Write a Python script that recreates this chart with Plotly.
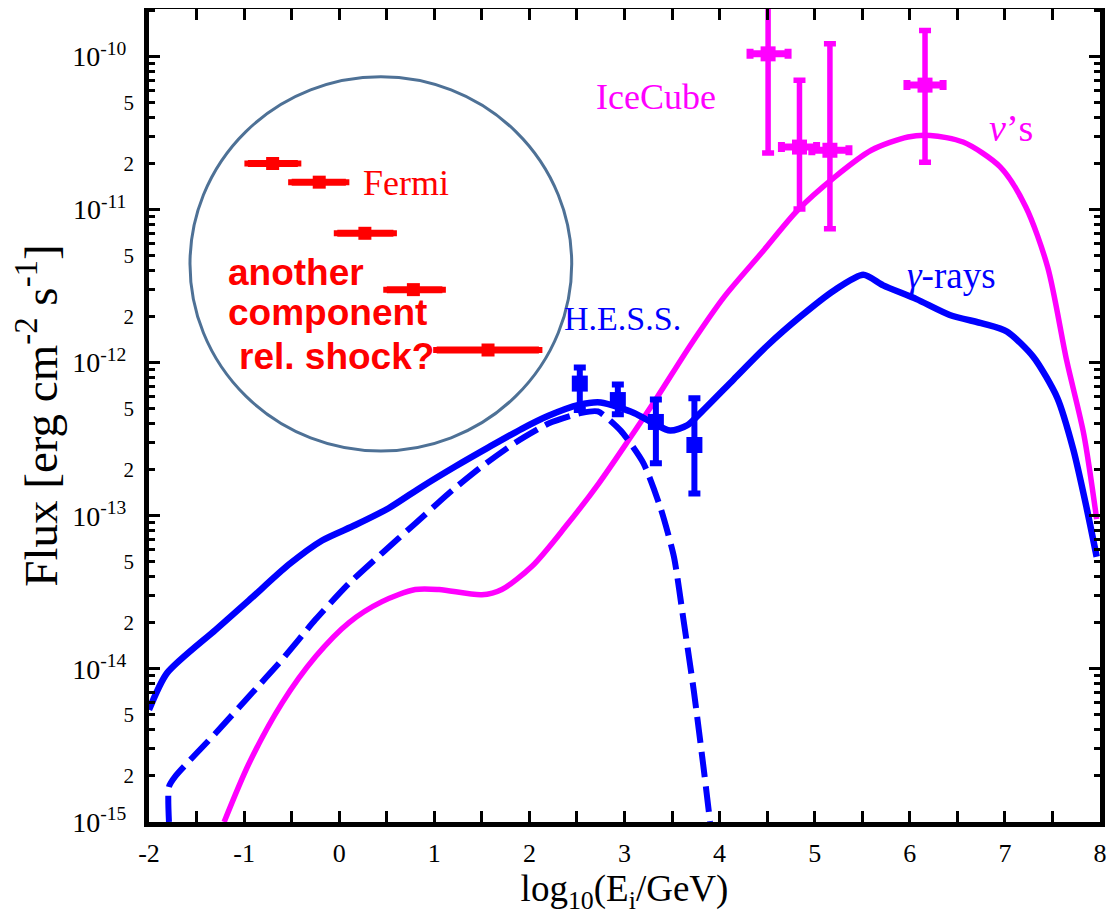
import plotly.graph_objects as go

# ---------------- data ----------------
gam_x = [-2.0, -1.81, -1.30, -0.95, -0.53, -0.18, 0.17, 0.52, 0.87, 1.22, 1.57, 1.92, 2.20, 2.52, 2.75,
         3.10, 3.31, 3.48, 3.66, 3.80, 4.15, 4.50, 4.85, 5.20, 5.51, 5.72, 6.07, 6.42, 6.77, 7.02,
         7.30, 7.55, 7.72, 7.86, 7.965]
gam_y = [5.4e-15, 9.4e-15, 1.8e-14, 2.8e-14, 4.8e-14, 6.9e-14, 8.7e-14, 1.12e-13, 1.55e-13, 2.1e-13,
         2.8e-13, 3.7e-13, 4.5e-13, 5.3e-13, 5.5e-13,
         4.7e-13, 4.0e-13, 3.6e-13, 3.9e-13, 4.7e-13, 7.8e-13, 1.29e-12, 2.0e-12, 2.95e-12, 3.75e-12,
         3.2e-12, 2.6e-12, 2.05e-12, 1.8e-12, 1.6e-12, 1.09e-12, 5.9e-13, 2.7e-13, 1.12e-13, 5.4e-14]

dash_x = [-1.79, -1.79, -1.72, -1.30, -0.95, -0.60, -0.25, 0.10, 0.45, 0.80, 1.15, 1.50, 1.85, 2.20,
          2.55, 2.72, 2.96, 3.20, 3.38, 3.52, 3.62, 3.73, 3.83, 3.90]
dash_y = [1.0e-15, 1.7e-15, 2.0e-15, 3.8e-15, 6.6e-15, 1.15e-14, 2.1e-14, 3.6e-14, 5.7e-14, 8.9e-14,
          1.4e-13, 2.1e-13, 3.0e-13, 4.0e-13, 4.7e-13, 4.8e-13, 3.6e-13, 2.2e-13, 1.12e-13, 5.4e-14,
          2.1e-14, 7.1e-15, 2.3e-15, 1.0e-15]

nu_x = [-1.21, -0.95, -0.60, -0.25, 0.10, 0.45, 0.80, 1.05, 1.50, 1.71, 2.03, 2.38, 2.73, 3.04, 3.34,
        3.70, 4.05, 4.44, 4.82, 5.21, 5.595, 5.98, 6.215, 6.56, 6.95, 7.22, 7.45, 7.65, 7.83, 7.965]
nu_y = [1.0e-15, 2.4e-15, 6.0e-15, 1.2e-14, 2.0e-14, 2.75e-14, 3.3e-14, 3.3e-14, 3.05e-14, 3.3e-14,
        4.7e-14, 8.5e-14, 1.63e-13, 3.1e-13, 5.9e-13,
        1.32e-12, 2.7e-12, 5.2e-12, 9.9e-12, 1.63e-11, 2.44e-11, 2.98e-11, 3.05e-11, 2.76e-11, 1.9e-11,
        1.04e-11, 4.2e-12, 1.03e-12, 3.4e-13, 9.5e-14]

fermi_x = [-0.70, -0.21, 0.27, 0.78, 1.565]
fermi_xlo = [-0.96, -0.50, -0.02, 0.50, 1.025]
fermi_xhi = [-0.435, 0.07, 0.57, 1.085, 2.10]
fermi_y = [2.0e-11, 1.51e-11, 7.0e-12, 3.0e-12, 1.21e-12]

hess_x = [2.53, 2.93, 3.33, 3.735]
hess_y = [7.3e-13, 5.7e-13, 4.1e-13, 2.9e-13]
hess_lo = [4.9e-13, 4.6e-13, 2.2e-13, 1.4e-13]
hess_hi = [9.3e-13, 7.2e-13, 5.75e-13, 5.85e-13]

ice_x = [4.51, 4.84, 5.16, 6.16]
ice_xlo = [4.32, 4.65, 4.97, 5.97]
ice_xhi = [4.72, 5.02, 5.36, 6.35]
ice_y = [1.04e-10, 2.56e-11, 2.44e-11, 6.5e-11]
ice_lo = [2.34e-11, 1.01e-11, 7.5e-12, 2.04e-11]
ice_hi = [4.0e-10, 7.0e-11, 1.21e-10, 1.48e-10]

x_ticks = [-2, -1, 0, 1, 2, 3, 4, 5, 6, 7, 8]
y_decades = [-15, -14, -13, -12, -11, -10]
y_mid_labels = [2, 5]

BLUE = "#0000FF"
MAG = "#FF00FF"
RED = "#FF0000"
SERIF = "Liberation Serif, Times New Roman, serif"
SANS = "Liberation Sans, Arial, sans-serif"

fig = go.Figure()

fig.add_trace(go.Scatter(x=nu_x, y=nu_y, mode="lines",
                         line=dict(color=MAG, width=5.5, shape="spline", smoothing=0.8),
                         showlegend=False))
fig.add_trace(go.Scatter(x=dash_x, y=dash_y, mode="lines",
                         line=dict(color=BLUE, width=6, dash="26px,9px", shape="spline", smoothing=0.6),
                         showlegend=False))
fig.add_trace(go.Scatter(x=gam_x, y=gam_y, mode="lines",
                         line=dict(color=BLUE, width=6.5, shape="spline", smoothing=0.7),
                         showlegend=False))

# Fermi
fig.add_trace(go.Scatter(
    x=fermi_x, y=fermi_y, mode="markers",
    marker=dict(symbol="square", size=13, color=RED),
    error_x=dict(type="data", symmetric=False,
                 array=[h - c for h, c in zip(fermi_xhi, fermi_x)],
                 arrayminus=[c - l for l, c in zip(fermi_xlo, fermi_x)],
                 color=RED, thickness=7, width=3),
    showlegend=False))

# HESS
fig.add_trace(go.Scatter(
    x=hess_x, y=hess_y, mode="markers",
    marker=dict(symbol="square", size=16, color=BLUE),
    error_y=dict(type="data", symmetric=False,
                 array=[h - c for h, c in zip(hess_hi, hess_y)],
                 arrayminus=[c - l for l, c in zip(hess_lo, hess_y)],
                 color=BLUE, thickness=6, width=6),
    showlegend=False))

# IceCube
fig.add_trace(go.Scatter(
    x=ice_x, y=ice_y, mode="markers",
    marker=dict(symbol="square", size=15, color=MAG),
    error_x=dict(type="data", symmetric=False,
                 array=[h - c for h, c in zip(ice_xhi, ice_x)],
                 arrayminus=[c - l for l, c in zip(ice_xlo, ice_x)],
                 color=MAG, thickness=7, width=5),
    error_y=dict(type="data", symmetric=False,
                 array=[h - c for h, c in zip(ice_hi, ice_y)],
                 arrayminus=[c - l for l, c in zip(ice_lo, ice_y)],
                 color=MAG, thickness=5.5, width=6),
    showlegend=False))

# invisible helper trace to activate the secondary label axis
fig.add_trace(go.Scatter(x=[fermi_x[0]], y=[fermi_y[0]], yaxis="y2", mode="markers",
                         marker=dict(opacity=0), hoverinfo="skip", showlegend=False))

# circle
fig.add_shape(type="circle", xref="paper", yref="paper",
              x0=0.0431, x1=0.4445, y0=0.4564, y1=0.9166,
              line=dict(color="#4E7196", width=3))

# y ticks
YR = [-15, -9.69]
dec_vals = [10.0 ** d for d in y_decades]
dec_text = ["10<sup>%d</sup>" % d for d in y_decades]
mid_vals, mid_text, minor_vals = [], [], []
for d in y_decades:
    for m in range(2, 10):
        v = m * 10.0 ** d
        if v < 10 ** YR[1]:
            minor_vals.append(v)
            if m in y_mid_labels and v < 1e-10:
                mid_vals.append(v)
                mid_text.append(str(m))

fig.update_layout(
    width=1107, height=910,
    margin=dict(l=141, r=15, t=1, b=96, autoexpand=False),
    paper_bgcolor="white", plot_bgcolor="white",
    font=dict(family=SERIF, color="black", size=24),
    xaxis=dict(range=[-2, 8], tickvals=x_ticks, ticktext=[str(v) for v in x_ticks],
               ticks="inside", ticklen=11, tickwidth=3, tickcolor="black",
               minor=dict(tickvals=[v + 0.5 for v in x_ticks[:-1]], ticks="inside", ticklen=6,
                          tickwidth=3, tickcolor="black"),
               showline=True, linewidth=5, linecolor="black", mirror="allticks",
               showgrid=False, zeroline=False, ticklabelstandoff=4, automargin=False,
               title=dict(text="log<sub>10</sub>(E<sub>i</sub>/GeV)", font=dict(size=37), standoff=2),
               tickfont=dict(size=26)),
    yaxis=dict(type="log", range=YR, tickvals=dec_vals, ticktext=dec_text,
               ticks="inside", ticklen=11, tickwidth=3, tickcolor="black",
               minor=dict(tickvals=minor_vals, ticks="inside", ticklen=6, tickwidth=3, tickcolor="black"),
               showline=True, linewidth=5, linecolor="black", mirror="allticks",
               showgrid=False, zeroline=False, ticklabelstandoff=12, automargin=False,
               title=dict(text="Flux [erg cm<sup>-2</sup> s<sup>-1</sup>]", font=dict(size=47), standoff=2),
               tickfont=dict(size=28)),
    yaxis2=dict(type="log", range=YR, overlaying="y", side="left", tickvals=mid_vals, ticktext=mid_text,
                ticks="", showline=False, showgrid=False, zeroline=False, ticklabelstandoff=14,
                automargin=False, tickfont=dict(size=21)),
)

ann = [
    dict(x=0.70, y=-10.828, text="Fermi", color=RED, size=36),
    dict(x=2.98, y=-11.709, text="H.E.S.S.", color=BLUE, size=34),
    dict(x=3.33, y=-10.267, text="IceCube", color=MAG, size=36),
    dict(x=7.06, y=-10.47, text="<i>ν</i>’s", color=MAG, size=38),
    dict(x=6.44, y=-11.43, text="<i>γ</i>-rays", color=BLUE, size=37),
]
for a in ann:
    fig.add_annotation(x=a["x"], y=a["y"], xref="x", yref="y", text=a["text"], showarrow=False,
                       font=dict(color=a["color"], size=a["size"], family=SERIF))

red_lines = [("another", -1.19, -11.41), ("component", -1.19, -11.675), ("rel. shock?", -1.075, -11.962)]
for t, xx, yy in red_lines:
    fig.add_annotation(x=xx, y=yy, xref="x", yref="y", xanchor="left", text="<b>%s</b>" % t,
                       showarrow=False, font=dict(color=RED, size=37, family=SANS))

fig.write_html("out.html")
